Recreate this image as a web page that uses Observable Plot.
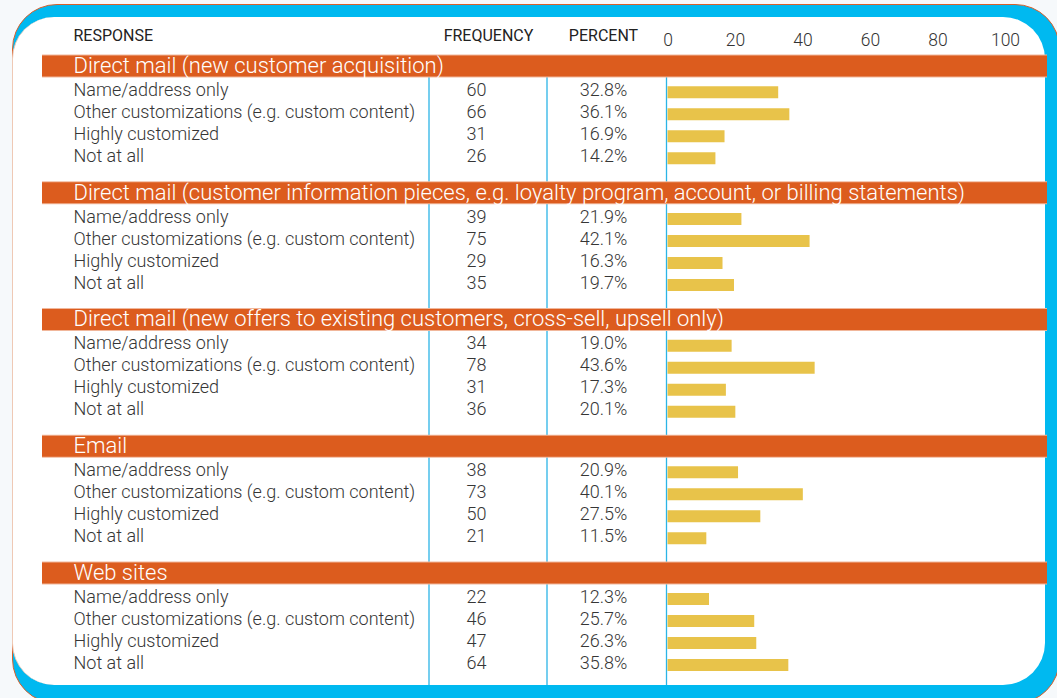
<!DOCTYPE html>
<html>
<head>
<meta charset="utf-8">
<script src="https://cdn.jsdelivr.net/npm/d3@7"></script>
<script src="https://cdn.jsdelivr.net/npm/@observablehq/plot@0.6"></script>
<style>
  html, body { margin: 0; padding: 0; background: #f6f9fb; }
  #page { position: relative; width: 1057px; height: 698px; overflow: hidden; }
  #outer { position: absolute; left: 12px; top: 4px; width: 1048px; height: 700px; box-sizing: border-box;
           background: #00b9f0; border: 1.5px solid #d9602a; border-radius: 45px; }
  #inner { position: absolute; left: 12px; top: 17px; width: 1033px; height: 668px; box-sizing: border-box;
           background: #ffffff; border-left: 1px solid #efc9b5; border-radius: 42px; }
  #chart { position: absolute; left: 0; top: 0; }
</style>
</head>
<body>
<div id="page">
  <div id="outer"></div>
  <div id="inner"></div>
  <div id="chart"></div>
</div>
<script>
// ---- data ----
const groups = [
  "Direct mail (new customer acquisition)",
  "Direct mail (customer information pieces, e.g. loyalty program, account, or billing statements)",
  "Direct mail (new offers to existing customers, cross-sell, upsell only)",
  "Email",
  "Web sites"
];
const responses = [
  "Name/address only",
  "Other customizations (e.g. custom content)",
  "Highly customized",
  "Not at all"
];
const frequency = [
  [60, 66, 31, 26],
  [39, 75, 29, 35],
  [34, 78, 31, 36],
  [38, 73, 50, 21],
  [22, 46, 47, 64]
];
const percent = [
  [32.8, 36.1, 16.9, 14.2],
  [21.9, 42.1, 16.3, 19.7],
  [19.0, 43.6, 17.3, 20.1],
  [20.9, 40.1, 27.5, 11.5],
  [12.3, 25.7, 26.3, 35.8]
];
const columnHeaders = ["RESPONSE", "FREQUENCY", "PERCENT"];
const xTicks = [0, 20, 40, 60, 80, 100];

// ---- layout (row units) ----
const groupStep = 5.76;
const itemOffset = 1.1;
const headerRowY = -1.38;

const groupRows = groups.map((g, gi) => ({ label: g, y: gi * groupStep }));
const rows = [];
groups.forEach((g, gi) => {
  responses.forEach((r, ri) => {
    rows.push({
      group: g, response: r,
      freq: frequency[gi][ri],
      pct: percent[gi][ri],
      y: gi * groupStep + itemOffset + ri
    });
  });
});
const headRow = columnHeaders.map(h => ({ label: h, y: headerRowY }));

const font = "Roboto, 'Liberation Sans', Arial, sans-serif";
const textColor = "#363636";
const sepColor = "#2bb4e6";

const chart = Plot.plot({
  width: 1057,
  height: 698,
  marginTop: 55,
  marginBottom: 13,
  marginLeft: 42,
  marginRight: 10,
  style: { background: "transparent", fontFamily: font, overflow: "visible" },
  x: { domain: [0, 100], range: [667.5, 1005] },
  y: { domain: [0, 1], range: [65.5, 87.5], axis: null },
  marks: [
    // column separators
    Plot.ruleX([0], { dx: -239, stroke: sepColor, strokeWidth: 1.3 }),
    Plot.ruleX([0], { dx: -121, stroke: sepColor, strokeWidth: 1.3 }),
    Plot.ruleX([0], { dx: -1.5, stroke: sepColor, strokeWidth: 1.3 }),
    // group header bands
    Plot.ruleY(groupRows, { y: "y", stroke: "#f1b79b", strokeWidth: 23 }),
    Plot.ruleY(groupRows, { y: "y", stroke: "#dc5c1e", strokeWidth: 21 }),
    Plot.text(groupRows, { y: "y", text: "label", frameAnchor: "left", dx: 31, dy: 0, textAnchor: "start",
      fill: "#ffffff", fontSize: 22, fontWeight: 300 }),
    // bars
    Plot.ruleY(rows, { y: "y", x1: 0, x2: "pct", dy: 2, stroke: "#e8c34a", strokeWidth: 12 }),
    // row texts
    Plot.text(rows, { y: "y", text: "response", frameAnchor: "left", dx: 31, textAnchor: "start",
      fill: textColor, fontSize: 18, fontWeight: 300 }),
    Plot.text(rows, { y: "y", text: d => String(d.freq), frameAnchor: "left", dx: 434, textAnchor: "middle",
      fill: textColor, fontSize: 18, fontWeight: 300 }),
    Plot.text(rows, { y: "y", text: d => d.pct.toFixed(1) + "%", frameAnchor: "left", dx: 561, textAnchor: "middle",
      fill: textColor, fontSize: 18, fontWeight: 300 }),
    // column headers
    Plot.text(headRow.slice(0, 1), { y: "y", text: "label", frameAnchor: "left", dx: 31, textAnchor: "start",
      fill: "#222", fontSize: 16 }),
    Plot.text(headRow.slice(1, 2), { y: "y", text: "label", frameAnchor: "left", dx: 446, textAnchor: "middle",
      fill: "#222", fontSize: 16 }),
    Plot.text(headRow.slice(2, 3), { y: "y", text: "label", frameAnchor: "left", dx: 561, textAnchor: "middle",
      fill: "#222", fontSize: 16 }),
    // percent axis on top
    Plot.axisX({ anchor: "top", ticks: xTicks, tickSize: 0, tickPadding: 10, label: null,
      fontSize: 17.5, fill: "#333", fontWeight: 300 })
  ]
});
document.getElementById("chart").appendChild(chart);
</script>
</body>
</html>
